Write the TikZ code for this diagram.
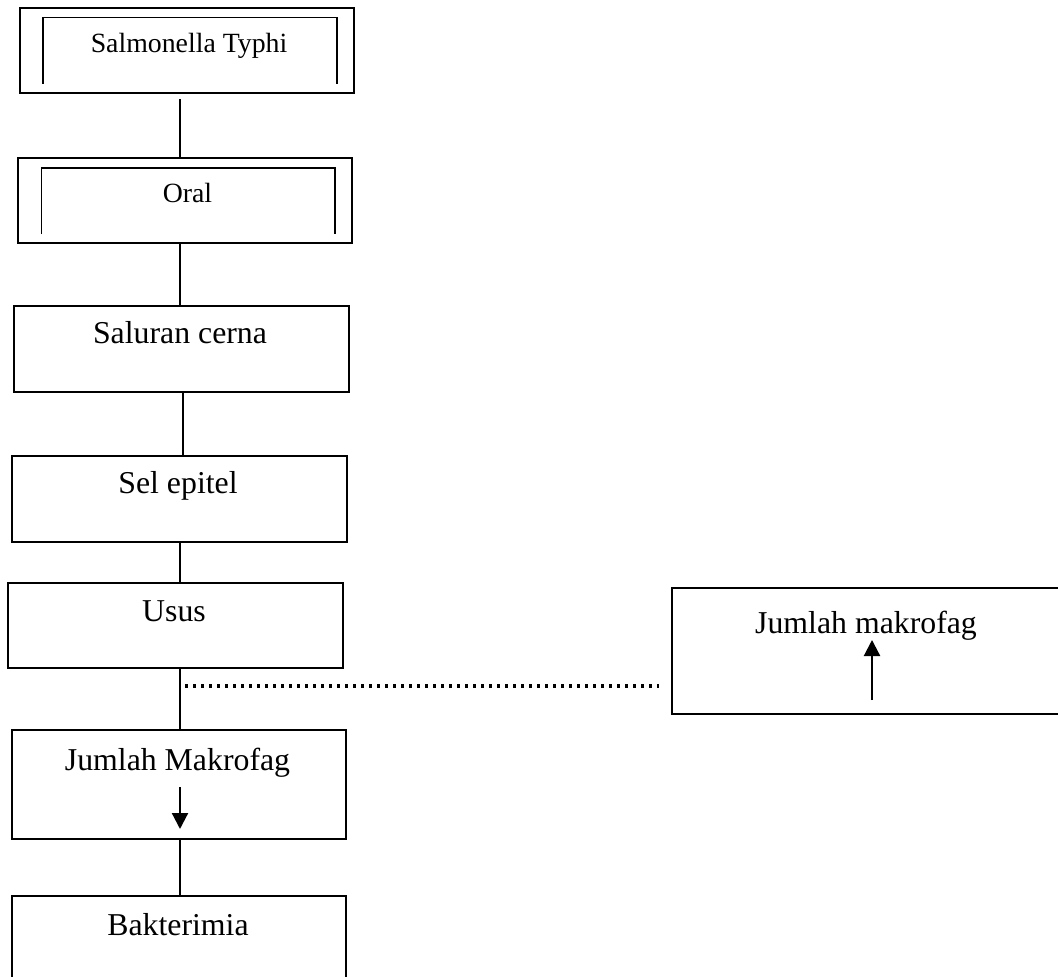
\documentclass[tikz,border=0pt]{standalone}
\usepackage{fontspec}
\setmainfont{Liberation Serif}
\usetikzlibrary{arrows.meta,positioning}

\begin{document}
\begin{tikzpicture}[
    x=0.5pt, y=-0.5pt,
    kotak/.style={draw, line width=1pt, inner sep=0pt, anchor=north west},
    dalam/.style={line width=0.7pt},
    teks/.style={anchor=base, inner sep=0pt, font=\fontsize{15.9}{18}\selectfont},
    tekskecil/.style={anchor=base, inner sep=0pt, font=\fontsize{13.9}{16}\selectfont},
    garis/.style={line width=1pt},
    panah/.style={-{Triangle[width=8pt,length=8pt]}, line width=1.1pt},
    titik/.style={line width=1.6pt, dash pattern=on 1.6pt off 2.4pt}
]
\clip (0,0) rectangle (1058,977);

\node[kotak, minimum width=167pt, minimum height=42.5pt] (st) at (19,7.3) {};
\node[kotak, minimum width=166.9pt, minimum height=42.7pt] (oral) at (17.3,156.7) {};
\node[kotak, minimum width=167.4pt, minimum height=42.8pt] (cerna) at (13,305) {};
\node[kotak, minimum width=167.5pt, minimum height=42.8pt] (epitel) at (10.7,455) {};
\node[kotak, minimum width=167.5pt, minimum height=42.7pt] (usus) at (6.7,581.7) {};
\node[kotak, minimum width=167pt, minimum height=54.5pt] (turun) at (11,729) {};
\node[kotak, minimum width=167pt, minimum height=43pt] (bakteri) at (11,895) {};
\node[kotak, minimum width=196pt, minimum height=63pt] (naik) at (671,587) {};

% garis dalam kotak ganda
\draw[dalam] ([xshift=12pt,yshift=5.3pt]st.south west) |- ([xshift=-9pt,yshift=-5pt]st.north east) -- ([xshift=-9pt,yshift=5.3pt]st.south east);
\draw[dalam] ([xshift=12pt,yshift=5pt]oral.south west) |- ([xshift=-9pt,yshift=-5.7pt]oral.north east) -- ([xshift=-9pt,yshift=5pt]oral.south east);

\node[tekskecil] (stteks) at (189,53) {Salmonella Typhi};
\node[tekskecil] (oralteks) at (187.5,203) {Oral};
\node[teks] (cernateks) at (180,344) {Saluran cerna};
\node[teks] (epitelteks) at (178,494) {Sel epitel};
\node[teks] (ususteks) at (174,621) {Usus};
\node[teks] (turunteks) at (177.5,770) {Jumlah Makrofag};
\node[teks] (bakteriteks) at (178,935) {Bakterimia};
\node[teks] (naikteks) at (866,633) {Jumlah makrofag};

\coordinate (jalur) at (180,0);
\draw[garis] ([yshift=-2.5pt]jalur |- st.south) -- (jalur |- oral.north);
\draw[garis] (jalur |- oral.south) -- (jalur |- cerna.north);
\draw[garis] ([xshift=1.5pt]jalur |- cerna.south) -- ([xshift=1.5pt]jalur |- epitel.north);
\draw[garis] (jalur |- epitel.south) -- (jalur |- usus.north);
\draw[garis] (jalur |- usus.south) -- (jalur |- turun.north);
\draw[garis] (jalur |- turun.south) -- (jalur |- bakteri.north);

\coordinate (cabang) at (185,686);
\draw[titik] (cabang) -- ([xshift=-6pt]cabang -| naik.west);

\draw[panah] ([xshift=0.5pt,yshift=26.5pt]turun.south) -- ([xshift=0.5pt,yshift=5.5pt]turun.south);
\draw[panah] ([xshift=2pt,yshift=7.5pt]naik.south) -- ([xshift=2pt,yshift=37.5pt]naik.south);
\end{tikzpicture}
\end{document}
